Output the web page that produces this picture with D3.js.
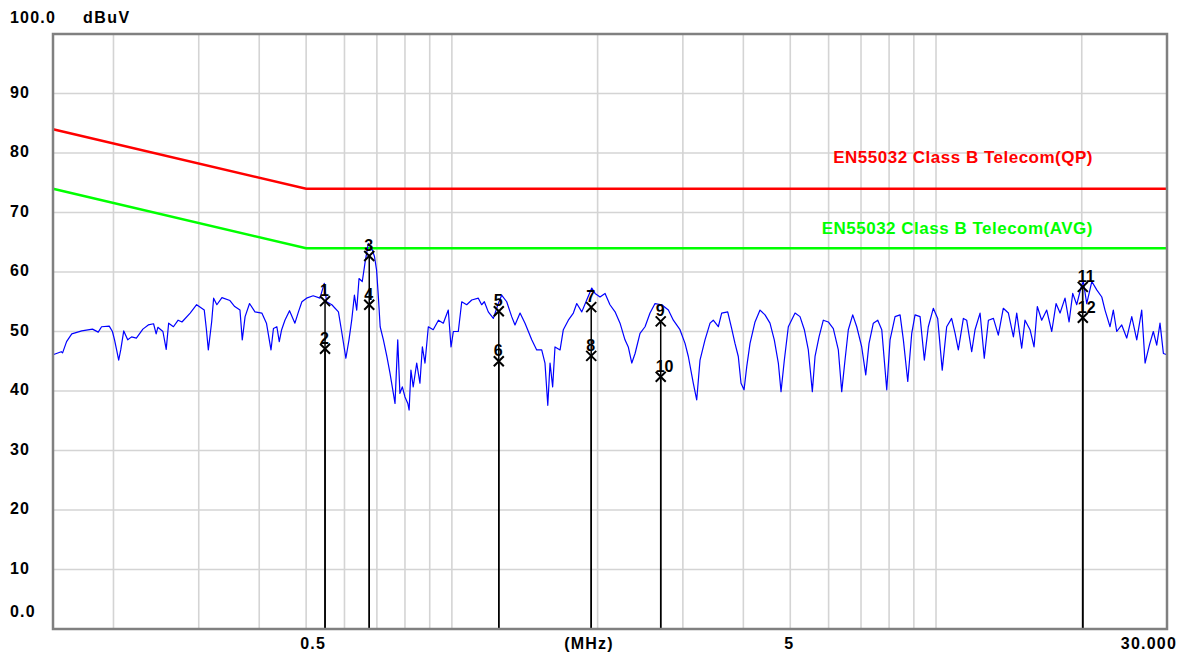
<!DOCTYPE html>
<html>
<head>
<meta charset="utf-8">
<script src="https://cdn.jsdelivr.net/npm/d3@7"></script>
<style>
  body { margin: 0; background: #fff; }
  text { font-family: "Liberation Sans", Arial, sans-serif; font-weight: bold; }
</style>
</head>
<body>
<script>
// conducted emission scan, 150 kHz - 30 MHz

var traceMHz = [
  0.150,0.156,0.157,0.160,0.164,0.172,0.181,0.186,0.189,0.196,0.199,0.201,0.203,0.205,0.207,0.210,0.214,0.218,0.223,0.230,
  0.236,0.242,0.245,0.247,0.253,0.257,0.260,0.266,0.272,0.277,0.288,0.297,0.308,0.311,0.314,0.319,0.322,0.327,0.335,0.348,
  0.356,0.365,0.369,0.374,0.382,0.392,0.405,0.414,0.423,0.428,0.435,0.440,0.445,0.452,0.462,
  0.474,0.482,0.490,0.501,0.517,0.534,0.545,0.551,0.565,0.583,0.592,0.604,0.613,0.621,0.629,0.636,0.643,0.653,0.662,0.672,
  0.685,0.692,0.699,0.705,0.711,0.722,0.734,0.745,0.757,0.763,0.773,0.781,0.790,0.800,0.811,0.816,0.823,0.832,0.846,0.859,
  0.869,0.880,0.894,0.915,0.938,0.960,0.983,0.996,1.007,1.031,1.048,1.073,1.099,1.134,1.152,1.167,
  1.189,1.218,1.247,1.267,1.298,1.329,1.350,1.383,1.416,1.462,1.497,1.533,1.557,1.578,1.595,1.615,1.633,1.673,1.699,1.740,
  1.782,1.811,1.855,1.899,1.945,1.976,2.023,2.072,2.121,2.173,2.225,2.278,2.314,2.353,2.390,2.447,2.506,2.566,2.628,2.713,
  2.800,2.867,2.959,3.031,3.079,3.153,3.204,3.255,3.333,3.414,3.467,
  3.551,3.608,3.713,3.784,3.844,3.905,3.956,4.013,4.065,4.129,4.228,4.330,4.434,4.540,4.634,4.724,4.785,4.861,4.954,5.115,
  5.237,5.346,5.448,5.553,5.625,5.733,5.851,5.991,6.136,6.284,6.386,6.487,6.590,6.729,6.859,7.023,7.159,7.272,7.422,7.580,
  7.726,7.911,8.037,8.230,8.429,8.562,8.743,8.910,9.051,9.270,9.460,9.640,9.872,10.08,10.30,10.52,10.77,
  10.95,11.12,11.39,11.57,11.85,12.04,12.33,12.58,12.83,13.14,13.45,13.77,14.11,14.45,14.68,15.03,15.27,15.64,15.94,16.19,
  16.53,16.93,17.34,17.70,18.04,18.47,18.83,19.16,19.53,19.91,20.15,20.48,20.98,21.48,22.00,22.34,22.88,23.24,23.62,24.19,
  24.77,25.37,25.98,26.60,27.03,27.59,28.11,28.57,29.02,29.49,30.0
];

var traceDbuv = [
  46.1,46.6,46.4,48.3,49.6,50.1,50.4,49.9,50.8,50.9,50.0,48.6,46.9,45.2,46.9,50.1,48.6,49.1,48.9,50.4,
  51.1,51.3,49.6,50.7,50.0,47.0,51.4,50.8,51.9,51.6,53.1,54.5,53.6,50.5,46.9,51.6,55.6,54.5,55.7,55.2,
  54.2,53.6,48.6,52.5,54.7,53.3,53.1,51.4,46.9,50.5,50.8,48.3,50.3,51.9,53.5,
  51.4,53.3,55.0,55.6,56.0,55.6,58.1,55.0,54.5,53.3,50.0,45.5,48.6,51.9,56.1,53.6,58.9,58.4,61.7,64.8,
  63.7,62.6,60.3,55.8,50.8,48.6,45.8,43.0,39.6,37.9,48.6,39.6,40.7,39.0,37.9,36.8,43.5,40.7,44.7,41.3,
  47.4,44.7,50.8,50.3,51.9,51.4,53.6,47.4,50.0,50.0,55.0,54.5,55.3,55.6,54.5,55.0,
  53.3,52.2,54.7,56.1,55.0,52.5,51.1,53.1,51.4,48.6,46.9,46.9,44.7,37.6,44.7,40.7,47.4,46.9,50.3,51.9,
  53.1,54.7,53.3,55.3,57.3,56.4,55.8,56.4,54.5,53.3,51.4,48.6,47.4,44.7,46.3,49.7,50.8,53.1,54.7,54.5,
  53.6,51.9,50.3,48.0,45.8,41.3,38.5,45.2,48.6,51.4,51.9,
  50.8,53.1,53.3,50.5,48.0,45.8,41.3,40.2,44.1,48.0,51.6,53.6,52.8,51.4,48.6,44.7,39.9,45.2,50.8,53.1,
  52.5,50.3,46.9,39.9,45.8,49.1,51.9,51.6,50.5,46.9,39.9,45.2,50.3,52.8,50.8,47.4,42.7,48.0,51.4,51.9,
  50.3,40.2,48.6,52.5,52.8,48.6,41.6,49.7,52.8,52.5,45.2,50.8,53.9,52.2,43.5,50.8,52.2,
  49.7,46.9,52.2,51.9,46.6,50.3,53.1,45.5,51.9,52.2,49.4,53.9,53.1,49.1,53.1,47.2,51.9,50.3,47.4,54.2,
  51.9,53.6,50.0,54.7,53.1,55.6,51.6,56.4,54.5,57.3,58.4,54.7,58.4,57.0,55.8,53.6,50.8,53.6,50.0,51.1,
  48.9,52.5,48.6,53.6,44.7,47.7,50.0,47.7,51.4,46.3,46.1
];

var qpLimitMHz = [0.15, 0.5, 30],
    qpLimitDbuv = [84, 74, 74],
    avgLimitMHz = [0.15, 0.5, 30],
    avgLimitDbuv = [74, 64, 64],
    limitNames = ["EN55032 Class B Telecom(QP)", "EN55032 Class B Telecom(AVG)"];

var markerNo = [1, 2, 3, 4, 5, 6, 7, 8, 9, 10, 11, 12],
    markerMHz = [0.547, 0.547, 0.675, 0.675, 1.250, 1.250, 1.940, 1.940, 2.700, 2.700, 20.10, 20.10],
    markerDbuv = [55.1, 47.1, 62.7, 54.5, 53.4, 45.0, 54.1, 45.9, 51.7, 42.4, 57.5, 52.3];

var yGrid = [10, 20, 30, 40, 50, 60, 70, 80, 90],
    yLabels = ["10", "20", "30", "40", "50", "60", "70", "80", "90"],
    xGridMHz = [0.2, 0.3, 0.4, 0.5, 0.6, 0.7, 0.8, 0.9, 1, 2, 3, 4, 5, 6, 7, 8, 9, 10, 20],
    xLabelMHz = [0.5, 5, 30],
    xLabels = ["0.5", "5", "30.000"];

var w = 1184,
    h = 655,
    pL = 53, pR = 1167, pT = 34, pB = 629;

var svg = d3.select("body")
  .append("svg")
  .attr("width", w)
  .attr("height", h);

var x = d3.scaleLog().domain([0.15, 30]).range([pL, pR]),
    y = d3.scaleLinear().domain([0, 100]).range([pB, pT]);

// grid
svg.selectAll("line.hgrid")
  .data(yGrid)
  .enter()
  .append("line")
  .attr("x1", pL).attr("x2", pR)
  .attr("y1", d => y(d)).attr("y2", d => y(d))
  .attr("stroke", "#d4d4d4").attr("stroke-width", 1.6);

svg.selectAll("line.vgrid")
  .data(xGridMHz)
  .enter()
  .append("line")
  .attr("x1", d => x(d)).attr("x2", d => x(d))
  .attr("y1", pT).attr("y2", pB)
  .attr("stroke", "#d4d4d4").attr("stroke-width", 1.6);

// limits
var lineFn = d3.line().x(d => x(d[0])).y(d => y(d[1]));

svg.append("path")
  .attr("d", lineFn(d3.zip(qpLimitMHz, qpLimitDbuv)))
  .attr("fill", "none").attr("stroke", "#ff0000").attr("stroke-width", 2.5);

svg.append("path")
  .attr("d", lineFn(d3.zip(avgLimitMHz, avgLimitDbuv)))
  .attr("fill", "none").attr("stroke", "#00ff00").attr("stroke-width", 2.5);

svg.append("text")
  .attr("x", 1093).attr("y", y(qpLimitDbuv[2]) - 26)
  .attr("text-anchor", "end")
  .attr("fill", "#ff0000")
  .attr("font-size", 17).attr("letter-spacing", 0.5)
  .text(limitNames[0]);

svg.append("text")
  .attr("x", 1093).attr("y", y(avgLimitDbuv[2]) - 14)
  .attr("text-anchor", "end")
  .attr("fill", "#00ff00")
  .attr("font-size", 17).attr("letter-spacing", 0.5)
  .text(limitNames[1]);

// trace
svg.append("path")
  .attr("d", lineFn(d3.zip(traceMHz, traceDbuv)))
  .attr("fill", "none").attr("stroke", "#0000ff").attr("stroke-width", 1.2)
  .attr("stroke-linejoin", "round");

// markers
var markers = d3.zip(markerNo, markerMHz, markerDbuv);

svg.selectAll("line.mk")
  .data(markers)
  .enter()
  .append("line")
  .attr("x1", d => x(d[1])).attr("x2", d => x(d[1]))
  .attr("y1", d => y(d[2])).attr("y2", pB)
  .attr("stroke", "#000").attr("stroke-width", 1.5);

svg.selectAll("path.mk")
  .data(markers)
  .enter()
  .append("path")
  .attr("d", d => {
    var cx = x(d[1]), cy = y(d[2]);
    return "M" + (cx - 5) + "," + (cy - 5) + "L" + (cx + 5) + "," + (cy + 5) +
           "M" + (cx + 5) + "," + (cy - 5) + "L" + (cx - 5) + "," + (cy + 5);
  })
  .attr("stroke", "#000").attr("stroke-width", 2);

svg.selectAll("text.mk")
  .data(markers)
  .enter()
  .append("text")
  .attr("x", d => x(d[1]) - 5)
  .attr("y", d => y(d[2]) - 5)
  .attr("font-size", 16)
  .attr("fill", "#000")
  .text(d => d[0]);

// axis text
svg.selectAll("text.ylab")
  .data(yGrid)
  .enter()
  .append("text")
  .attr("x", 10).attr("y", d => y(d) + 4)
  .attr("font-size", 16).attr("letter-spacing", 1.2)
  .text((d, i) => yLabels[i]);

svg.append("text").attr("x", 10).attr("y", y(0) - 12)
  .attr("font-size", 16).attr("letter-spacing", 1.2).text("0.0");
svg.append("text").attr("x", 10).attr("y", y(100) - 11)
  .attr("font-size", 16).attr("letter-spacing", 1.2).text("100.0");
svg.append("text").attr("x", 83).attr("y", y(100) - 11)
  .attr("font-size", 16).attr("letter-spacing", 1.5).text("dBuV");

svg.selectAll("text.xlab")
  .data(xLabelMHz)
  .enter()
  .append("text")
  .attr("x", (d, i) => i < 2 ? x(d) - 6 : x(d) + 10)
  .attr("y", 649)
  .attr("text-anchor", (d, i) => i < 2 ? "start" : "end")
  .attr("font-size", 16).attr("letter-spacing", 1.2)
  .text((d, i) => xLabels[i]);

svg.append("text").attr("x", 589).attr("y", 649)
  .attr("text-anchor", "middle")
  .attr("font-size", 16).attr("letter-spacing", 1.2).text("(MHz)");

// frame
svg.append("rect")
  .attr("x", pL).attr("y", pT)
  .attr("width", pR - pL).attr("height", pB - pT)
  .attr("fill", "none").attr("stroke", "#808080").attr("stroke-width", 2.5);
</script>
</body>
</html>
